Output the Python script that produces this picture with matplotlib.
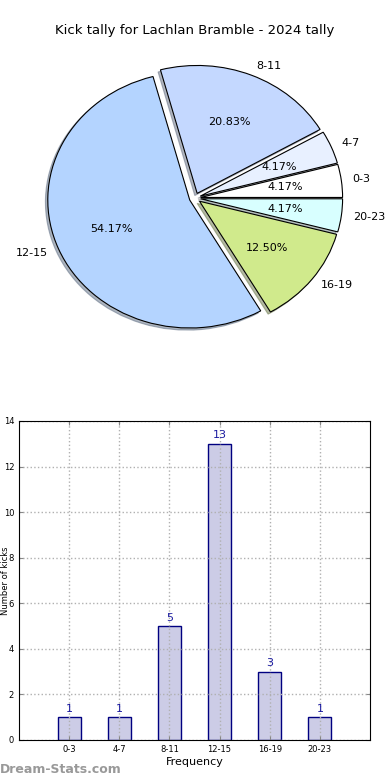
import matplotlib
matplotlib.use("Agg")
import matplotlib.pyplot as plt
import numpy as np

title = "Kick tally for Lachlan Bramble - 2024 tally"
bins = ["0-3", "4-7", "8-11", "12-15", "16-19", "20-23"]
counts = [1, 1, 5, 13, 3, 1]
pie_colors = ["#ffffff", "#e8f0ff", "#c4d8ff", "#b4d4ff", "#d0ea8c", "#d8ffff"]

fig = plt.figure(figsize=(3.9, 7.8), dpi=100)

# pie on top
ax1 = fig.add_axes([0.045, 0.541, 0.91, 0.41])
wedges, texts, autotexts = ax1.pie(counts, labels=bins, colors=pie_colors,
                                   explode=[0.04] * len(counts),
                                   shadow={'ox': -0.012, 'oy': -0.012, 'shade': 0.5},
                                   autopct='%.2f%%', startangle=0,
                                   labeldistance=1.08, pctdistance=0.6,
                                   wedgeprops=dict(edgecolor='black', linewidth=0.8))
ax1.set_aspect('auto')
ax1.set_xlim(-1.25, 1.25)
ax1.set_ylim(-1.25, 1.25)
for t in texts:
    t.set_fontsize(8)
for t in autotexts:
    t.set_fontsize(8)
fig.text(0.5, 0.961, title, ha='center', va='center', fontsize=9.5)

# bar chart below
ax2 = fig.add_axes([0.0487, 0.0513, 0.9, 0.409])
x = np.arange(len(bins))
bars = ax2.bar(x, counts, width=0.46, color='#ccccE6', edgecolor='#000080',
               linewidth=1)
for xi, c in zip(x, counts):
    ax2.text(xi, c + 0.15, str(c), ha='center', va='bottom', fontsize=8,
             color='#1a1aa0')
ax2.set_xlim(-1, 6)
ax2.set_ylim(0, 14)
ax2.set_xticks(x)
ax2.set_xticklabels(bins, fontsize=6)
ax2.set_yticks(range(0, 15, 2))
ax2.tick_params(axis='y', labelsize=6)
ax2.tick_params(direction='in', top=True, right=True, length=3, color='#888888')
ax2.grid(True, linestyle=':', color='#b0b0b0', linewidth=1)
ax2.set_xlabel("Frequency", fontsize=8, labelpad=2)
ax2.set_ylabel("Number of kicks", fontsize=6)
ax2.yaxis.set_label_coords(-0.027, 0.5)

fig.text(0.0, 0.013, "Dream-Stats.com", fontsize=9, color='#999999',
         fontweight='bold', ha='left', va='center')

fig.savefig("out.png", dpi=100, facecolor='white')
